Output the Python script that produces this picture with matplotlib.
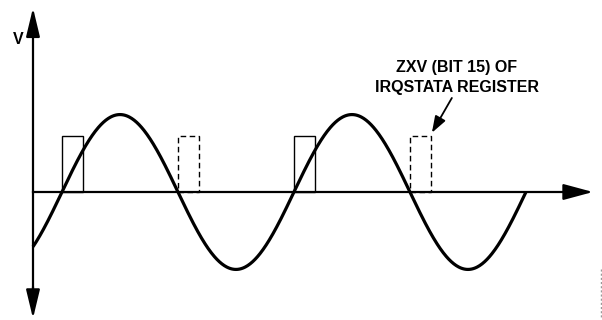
import numpy as np
import matplotlib
matplotlib.use("Agg")
import matplotlib.pyplot as plt
from matplotlib.patches import Rectangle

# ---- diagram values (phase in degrees, voltage in units of amplitude) ----
wave_start_deg = -45
wave_end_deg = 720
wave_amplitude = 1.0
pulse_starts_deg = [0, 180, 360, 540]
pulse_width_deg = 33
pulse_height = 0.71
pulse_styles = ["solid", "dashed", "solid", "dashed"]
axis_y_label = "V"
note_lines = ["ZXV (BIT 15) OF", "IRQSTATA REGISTER"]

fig = plt.figure(figsize=(6.02, 3.2), dpi=100)
ax = fig.add_axes([0, 0, 1, 1])
ax.set_xlim(-96.2, 838.0)
ax.set_ylim(-1.62, 2.43)
ax.axis("off")

# sine wave
phase = np.linspace(wave_start_deg, wave_end_deg, 800)
ax.plot(phase, 0.98 * wave_amplitude * np.sin(np.radians(phase)), color="black", lw=2.3,
        solid_capstyle="butt", zorder=3)

# pulses
for start, style in zip(pulse_starts_deg, pulse_styles):
    ax.add_patch(Rectangle((start, 0), pulse_width_deg, pulse_height, fill=False,
                           ec="black", lw=1.0, ls=(0, (4, 2.5)) if style == "dashed" else "-",
                           zorder=2))

# axes with arrows
y_axis_x = wave_start_deg
arrow_kw = dict(arrowstyle="-|>,head_length=1.25,head_width=0.3", color="black",
                lw=1.6, mutation_scale=14, shrinkA=0, shrinkB=0)
ax.plot([y_axis_x, y_axis_x], [-1.35, 2.1], color="black", lw=1.6, zorder=2)
ax.annotate("", xy=(y_axis_x, 2.33), xytext=(y_axis_x, 2.0), arrowprops=arrow_kw)
ax.annotate("", xy=(y_axis_x, -1.6), xytext=(y_axis_x, -1.2), arrowprops=arrow_kw)
ax.plot([y_axis_x, 790], [0, 0], color="black", lw=1.6, zorder=2)
ax.annotate("", xy=(824, 0), xytext=(780, 0),
            arrowprops=dict(arrowstyle="-|>,head_length=1.3,head_width=0.35", color="black",
                            lw=1.6, mutation_scale=14, shrinkA=0, shrinkB=0))

# labels
font = ["Liberation Sans", "DejaVu Sans"]
ax.text(-68.3, 1.93, axis_y_label, fontsize=11.5, fontweight="bold",
        family=font, ha="center", va="center")
ax.text(613, 1.58, note_lines[0], fontsize=11.5, fontweight="bold",
        family=font, ha="center", va="center")
ax.text(613, 1.32, note_lines[1], fontsize=11.5, fontweight="bold",
        family=font, ha="center", va="center")
ax.annotate("", xy=(574, 0.75), xytext=(605, 1.19),
            arrowprops=dict(arrowstyle="-|>,head_length=1.0,head_width=0.35", color="black",
                            lw=1.3, mutation_scale=10, shrinkA=0, shrinkB=0))

# small grey figure tag at right edge
ax.plot([836.4, 836.4], [-0.975, -1.595], color="#999999", lw=1.0, ls=(0, (1.5, 1.5)))

fig.savefig("out.png", dpi=100)
